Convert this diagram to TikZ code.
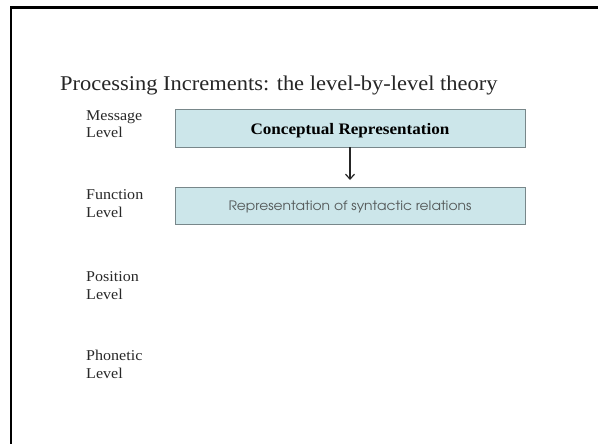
\documentclass[tikz,border=0pt]{standalone}
\usepackage{fontspec}
\setmainfont{Liberation Serif}
\newfontfamily\gothic{TeX Gyre Adventor}
\usetikzlibrary{arrows.meta}
\definecolor{boxfill}{RGB}{204,230,234}
\definecolor{boxline}{RGB}{120,135,138}
\definecolor{graytext}{RGB}{85,90,90}
\definecolor{lbltext}{RGB}{40,40,40}
\tikzset{
  lbl/.style={anchor=base west, inner sep=0pt, xscale=1.07, font=\fontsize{15}{18}\selectfont, text=lbltext},
  levelbox/.style={draw=boxline, line width=0.8pt, fill=boxfill, inner sep=0pt},
  boxtext/.style={anchor=base, inner sep=0pt, xscale=1.07},
  frame/.style={line width=2.6pt, black}
}
\begin{document}
\begin{tikzpicture}[x=1pt,y=-1pt]
\useasboundingbox (0,0) rectangle (598,444);
\fill[white] (0,0) rectangle (598,444);
\draw[frame] (11,444) -- (11,7.5) -- (598,7.5);
\node[anchor=base west, inner sep=0pt, xscale=1.07, font=\fontsize{21}{24}\selectfont, text=black!85] (title) at (60,91) {Processing Increments: the level-by-level theory};
\node[lbl] (m1) at (86,121) {Message};
\node[lbl] (m2) at (86,138) {Level};
\node[lbl] (f1) at (86,200) {Function};
\node[lbl] (f2) at (86,218) {Level};
\node[lbl] (p1) at (86,281) {Position};
\node[lbl] (p2) at (86,299) {Level};
\node[lbl] (h1) at (86,360) {Phonetic};
\node[lbl] (h2) at (86,378) {Level};
\node[levelbox, minimum width=350pt, minimum height=38pt] (concept) at (350,128) {};
\node[boxtext, font=\fontsize{16}{18}\bfseries\selectfont] (ctext) at (350,135) {Conceptual Representation};
\node[levelbox, minimum width=350pt, minimum height=37pt] (syn) at (350,205.5) {};
\node[boxtext, font=\gothic\fontsize{13}{15}\selectfont, text=graytext] (stext) at (350,210.5) {Representation of syntactic relations};
\coordinate (tip) at (350,180);
\draw[-{Straight Barb[length=5pt,width=9pt]}, line width=1.2pt, black!85] (concept.south) -- (tip);
\end{tikzpicture}
\end{document}
